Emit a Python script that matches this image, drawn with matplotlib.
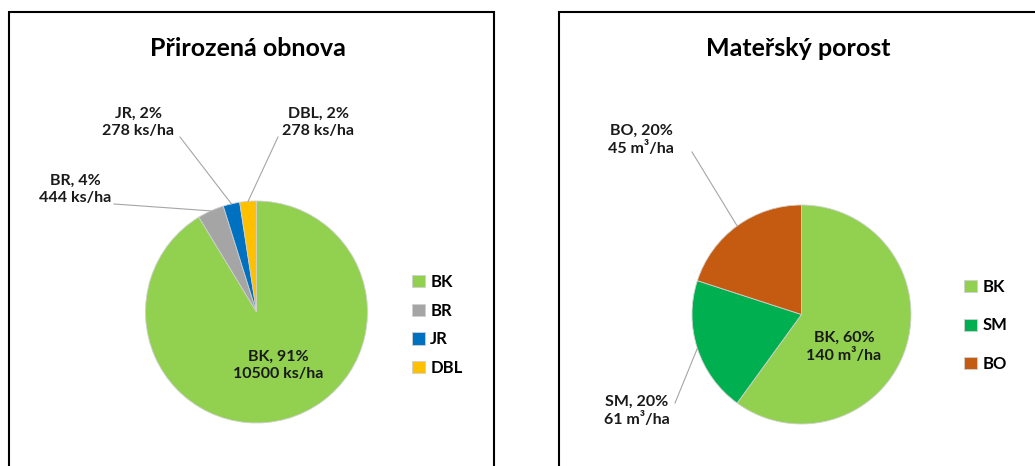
import numpy as np
import matplotlib.pyplot as plt
from matplotlib.patches import Rectangle

plt.rcParams['font.family'] = ['Lato', 'DejaVu Sans']

# Přirozená obnova (natural regeneration)
regen_species = ['BK', 'BR', 'JR', 'DBL']
regen_density = [10500, 444, 278, 278]   # ks/ha
regen_pct = [91, 4, 2, 2]
regen_colors = ['#92D050', '#A5A5A5', '#0070C0', '#FFC000']

# Mateřský porost (parent stand)
stand_species = ['BK', 'SM', 'BO']
stand_pct = [60, 20, 20]
stand_volume = [140, 61, 45]   # m3/ha
stand_colors = ['#92D050', '#00B050', '#C55A11']

W, H = 1035, 466
fig = plt.figure(figsize=(W / 100, H / 100), dpi=100)
ax = fig.add_axes([0, 0, 1, 1])


def y(v):
    # image pixel row -> data y (origin at bottom)
    return H - v


def edge(w):
    mid = np.deg2rad((w.theta1 + w.theta2) / 2)
    return w.center[0] + w.r * np.cos(mid), w.center[1] + w.r * np.sin(mid)


wprops = dict(edgecolor='#d0d0d0', linewidth=0.6)
left_w, _ = ax.pie(regen_density, colors=regen_colors, startangle=90,
                   counterclock=False, center=(256.5, y(312)), radius=111,
                   wedgeprops=wprops)
right_w, _ = ax.pie(stand_pct, colors=stand_colors, startangle=90,
                    counterclock=False, center=(801.5, y(314.5)), radius=109.5,
                    wedgeprops=wprops)

ax.set_xlim(0, W)
ax.set_ylim(0, H)
ax.set_aspect('equal')
ax.axis('off')

# panel frames
for x0, wdt in [(9, 485), (559, 600)]:
    ax.add_patch(Rectangle((x0, -20), wdt, y(12) + 20, fill=False,
                           edgecolor='black', linewidth=1.5))

ax.text(247.5, y(48), 'Přirozená obnova', ha='center', va='center',
        fontsize=18, fontweight='bold')
ax.text(798.5, y(48), 'Mateřský porost', ha='center', va='center',
        fontsize=18, fontweight='bold')

lab_style = dict(ha='center', va='center', fontsize=11.5, fontweight='bold',
                 linespacing=1.3, color='#1a1a1a')
line_style = dict(color='#a6a6a6', linewidth=0.8)

# label centre, leader start (None = label inside slice)
left_pos = [((278, 365.5), None), ((75, 189.5), (114, 204)),
            ((138.5, 122.5), (180, 137)), ((318, 122.5), (278, 137))]
for sp, pct, val, w, (lp, ls) in zip(regen_species, regen_pct, regen_density,
                                      left_w, left_pos):
    ax.text(lp[0], y(lp[1]), f'{sp}, {pct}%\n{val} ks/ha', **lab_style)
    if ls is not None:
        ex, ey = edge(w)
        ax.plot([ls[0], ex], [y(ls[1]), ey], **line_style)

right_pos = [((844, 347), None), ((636.5, 411), (675, 403)),
             ((641, 140), (692, 152))]
for sp, pct, val, w, (lp, ls) in zip(stand_species, stand_pct, stand_volume,
                                      right_w, right_pos):
    ax.text(lp[0], y(lp[1]), f'{sp}, {pct}%\n{val} m³/ha', **lab_style)
    if ls is not None:
        ex, ey = edge(w)
        ax.plot([ls[0], ex], [y(ls[1]), ey], **line_style)

leg_style = dict(frameon=False, handlelength=0.75, handleheight=0.75,
                 handletextpad=0.35, borderpad=0, borderaxespad=0,
                 loc='center left', bbox_transform=ax.transData,
                 prop=dict(weight='bold', size=12))
leg1 = ax.legend(left_w, regen_species, bbox_to_anchor=(412, y(325)),
                 labelspacing=0.76, **leg_style)
ax.add_artist(leg1)
ax.legend(right_w, stand_species, bbox_to_anchor=(964, y(325.5)),
          labelspacing=1.36, **leg_style)

fig.savefig('out.png', dpi=100)
